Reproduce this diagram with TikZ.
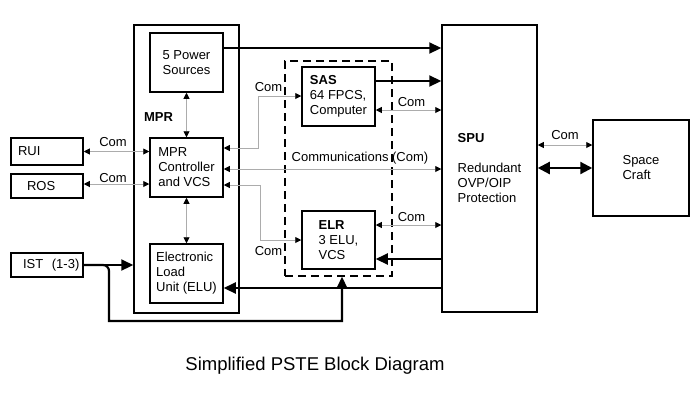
\documentclass[tikz,border=0pt]{standalone}
\usepackage{fontspec}
\setmainfont{Liberation Sans}
\usetikzlibrary{arrows.meta,calc}
\begin{document}
\begin{tikzpicture}[x=1pt,y=-1pt,
  font=\fontsize{13}{15}\selectfont,
  box/.style={draw, line width=1.5pt, inner sep=0pt, align=left},
  thk/.style={line width=2.2pt, -{Triangle[length=12pt,width=11pt]}},
  gry/.style={draw=gray!65, line width=0.9pt,
    {Triangle[length=6pt,width=6pt,color=black]}-{Triangle[length=6pt,width=6pt,color=black]}},
  lbl/.style={inner sep=0pt}]
\useasboundingbox (0,0) rectangle (700,400);

% boxes
\node[box, minimum width=105pt, minimum height=288pt] (mpr) at (186.5,169) {};
\node[box, align=center, minimum width=73pt, minimum height=59pt] (pw) at (186.5,62.5) {5 Power\\Sources};
\node[box, minimum width=73pt, minimum height=59pt] (ctl) at (186.5,167.5) {MPR\\Controller\\and VCS};
\node[box, minimum width=73pt, minimum height=59pt] (elu) at (186.5,273.5) {Electronic\\Load\\Unit (ELU)};
\node[lbl, font=\fontsize{13}{15}\selectfont\bfseries] (mprl) at (158.5,117) {MPR};

\node[box, text width=72pt, minimum height=27pt] (rui) at (47,151.5) {\hspace*{7pt}RUI};
\node[box, text width=72pt, minimum height=24pt] (ros) at (47,186) {\hspace*{16pt}ROS};
\node[box, text width=72pt, minimum height=24pt] (ist) at (47,265) {\hspace*{12pt}IST\ \ (1-3)};

\node[draw, line width=1.5pt, dash pattern=on 8pt off 5pt, minimum width=107pt, minimum height=215pt, inner sep=0pt] (lr) at (338.5,168.5) {};
\node[box, minimum width=73pt, minimum height=59pt] (sas) at (338.5,96.5) {\textbf{SAS}\\64 FPCS,\\Computer};
\node[box, minimum width=73pt, minimum height=58pt] (elr) at (338.5,240) {\textbf{ELR}\\3 ELU,\\VCS};

\node[box, minimum width=95pt, minimum height=287pt] (spu) at (489.5,168.5) {\textbf{SPU}\\[15pt]Redundant\\OVP/OIP\\Protection};
\node[box, minimum width=96pt, minimum height=96pt] (sc) at (641,168) {Space\\Craft};

% thick power lines
\draw[thk] (pw.east |- 0,48) -- (spu.west |- 0,48);
\draw[thk] (sas.east |- 0,81) -- (spu.west |- 0,81);
\draw[thk] (spu.west |- 0,259) -- (elr.east |- 0,259);
\draw[thk] (spu.west |- 0,288) -- (elu.east |- 0,288);
\draw[line width=2.2pt, {Triangle[length=12pt,width=12pt]}-{Triangle[length=12pt,width=12pt]}] (spu.east |- 0,168) -- (sc.west |- 0,168);
\draw[thk] (ist.east) -- (mpr.west |- ist.east);
\draw[thk] (ist.east) [rounded corners=6pt] -| (109,300) [sharp corners] -- (109,321) -| (lr.south -| 342,0);

% communication lines
\draw[gry] (rui.east) -- (ctl.west |- rui.east);
\draw[gry] (ros.east |- 0,184) -- (ctl.west |- 0,184);
\draw[gry] (pw.south) -- (ctl.north);
\draw[gry] (ctl.south) -- (elu.north);
\draw[gry] (ctl.east |- 0,148) -| (258,96) -- (sas.west |- 0,96);
\draw[gry] (ctl.east |- 0,185) -| (260,240) -- (elr.west);
\draw[gry] (ctl.east |- 0,169) -- (spu.west |- 0,169);
\draw[gry] (sas.east |- 0,110) -- (spu.west |- 0,110);
\draw[gry] (elr.east |- 0,225) -- (spu.west |- 0,225);
\draw[gry] (spu.east |- 0,145) -- (sc.west |- 0,145);

% labels
\node[lbl] (c1) at (113,142) {Com};
\node[lbl] (c2) at (113,178) {Com};
\node[lbl] (c3) at (268.5,87.5) {Com};
\node[lbl] (c4) at (268.5,251) {Com};
\node[lbl] (cm) at (360,158) {Communications (Com)};
\node[lbl] (c5) at (411.5,102) {Com};
\node[lbl] (c6) at (411.5,217) {Com};
\node[lbl] (c7) at (565,135.5) {Com};

\node[lbl, font=\fontsize{18.5}{22}\selectfont] (cap) at (315,366) {Simplified PSTE Block Diagram};
\end{tikzpicture}
\end{document}
